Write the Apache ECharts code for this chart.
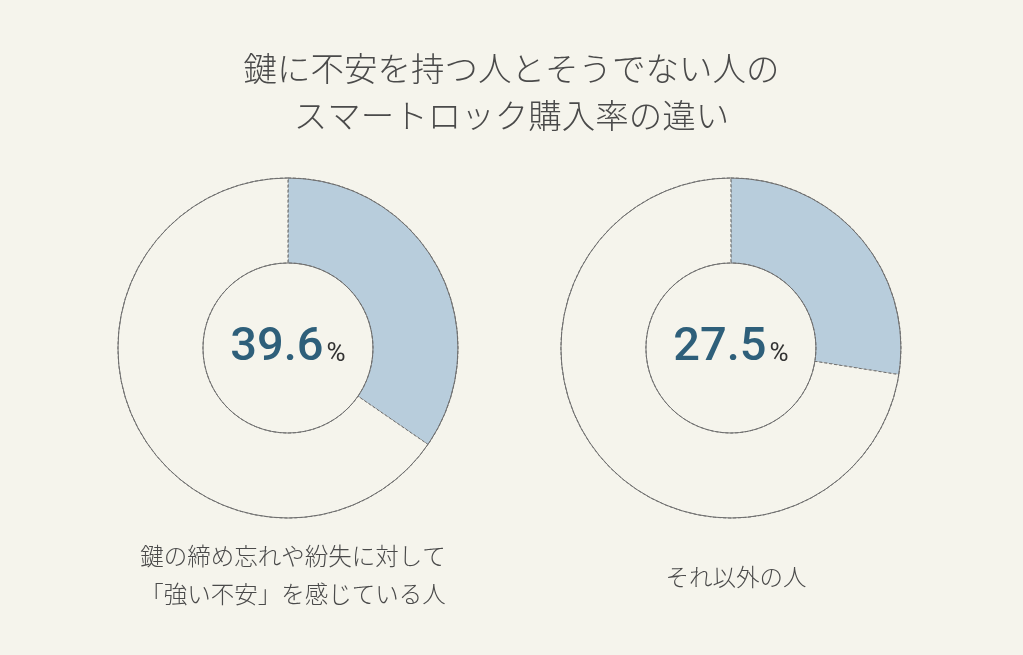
<!DOCTYPE html>
<html>
<head>
<meta charset="utf-8">
<script src="https://cdn.jsdelivr.net/npm/echarts@6/dist/echarts.min.js"></script>
<style>
html, body {margin: 0; padding: 0; background: #f5f4ec;}
#chart {width: 1023px; height: 655px;}
</style>
</head>
<body>
<div id="chart"></div>
<script>
// data
var titleLines = ['鍵に不安を持つ人とそうでない人の', 'スマートロック購入率の違い'];
var groups = ['鍵の締め忘れや紛失に対して\n「強い不安」を感じている人', 'それ以外の人'];
// printed rates in the middle of each ring
var rates = [39.6, 27.5];
// share of the ring painted blue, as measured on the picture
var shares = [34.6, 27.5];
var centersX = ['28.15%', '71.45%'];

var bg = '#f5f4ec';
var fill = '#b8cddc';
var lineC = '#6e6e6e';

var series = [];
rates.forEach(function (r, i) {
  var c = [centersX[i], 348];
  // slices
  series.push({
    type: 'pie',
    radius: [85, 170],
    center: c,
    startAngle: 90,
    clockwise: true,
    silent: true,
    label: {show: false},
    labelLine: {show: false},
    data: [
      {value: shares[i], name: '購入', itemStyle: {color: fill}},
      {value: +(100 - shares[i]).toFixed(1), name: '未購入', itemStyle: {color: bg}}
    ],
    itemStyle: {borderColor: lineC, borderWidth: 1, borderType: [3, 2]}
  });
  // solid rings on top
  series.push({
    type: 'pie',
    radius: [85, 170],
    center: c,
    silent: true,
    label: {
      show: true,
      position: 'center',
      formatter: '{n|' + r.toFixed(1) + '}{p|%}',
      rich: {
        n: {fontFamily: 'Roboto', fontWeight: 500, fontSize: 47, color: '#2e5f7a', padding: [0, 3, 0, 0]},
        p: {fontFamily: 'Roboto', fontWeight: 'normal', fontSize: 26, color: '#333', padding: [12, 0, 0, 0]}
      }
    },
    labelLine: {show: false},
    data: [{value: 1, name: ''}],
    itemStyle: {color: 'rgba(0,0,0,0)', borderColor: lineC, borderWidth: 1}
  });
});

var titles = [{
  text: titleLines.join('\n'),
  left: 'center',
  top: 40,
  textStyle: {fontFamily: 'Noto Sans CJK JP', fontWeight: 300, fontSize: 33.5, color: '#4a4a4a', lineHeight: 47}
}];
groups.forEach(function (g, i) {
  titles.push({
    text: g,
    left: centersX[i],
    top: i === 0 ? 532 : 553,
    textAlign: 'center',
    textStyle: {fontFamily: 'Noto Sans CJK JP', fontWeight: 300, fontSize: 23.5, color: '#4a4a4a', lineHeight: 38}
  });
});

var myChart = echarts.init(document.getElementById('chart'));
myChart.setOption({
  backgroundColor: bg,
  animation: false,
  title: titles,
  series: series
});
</script>
</body>
</html>
